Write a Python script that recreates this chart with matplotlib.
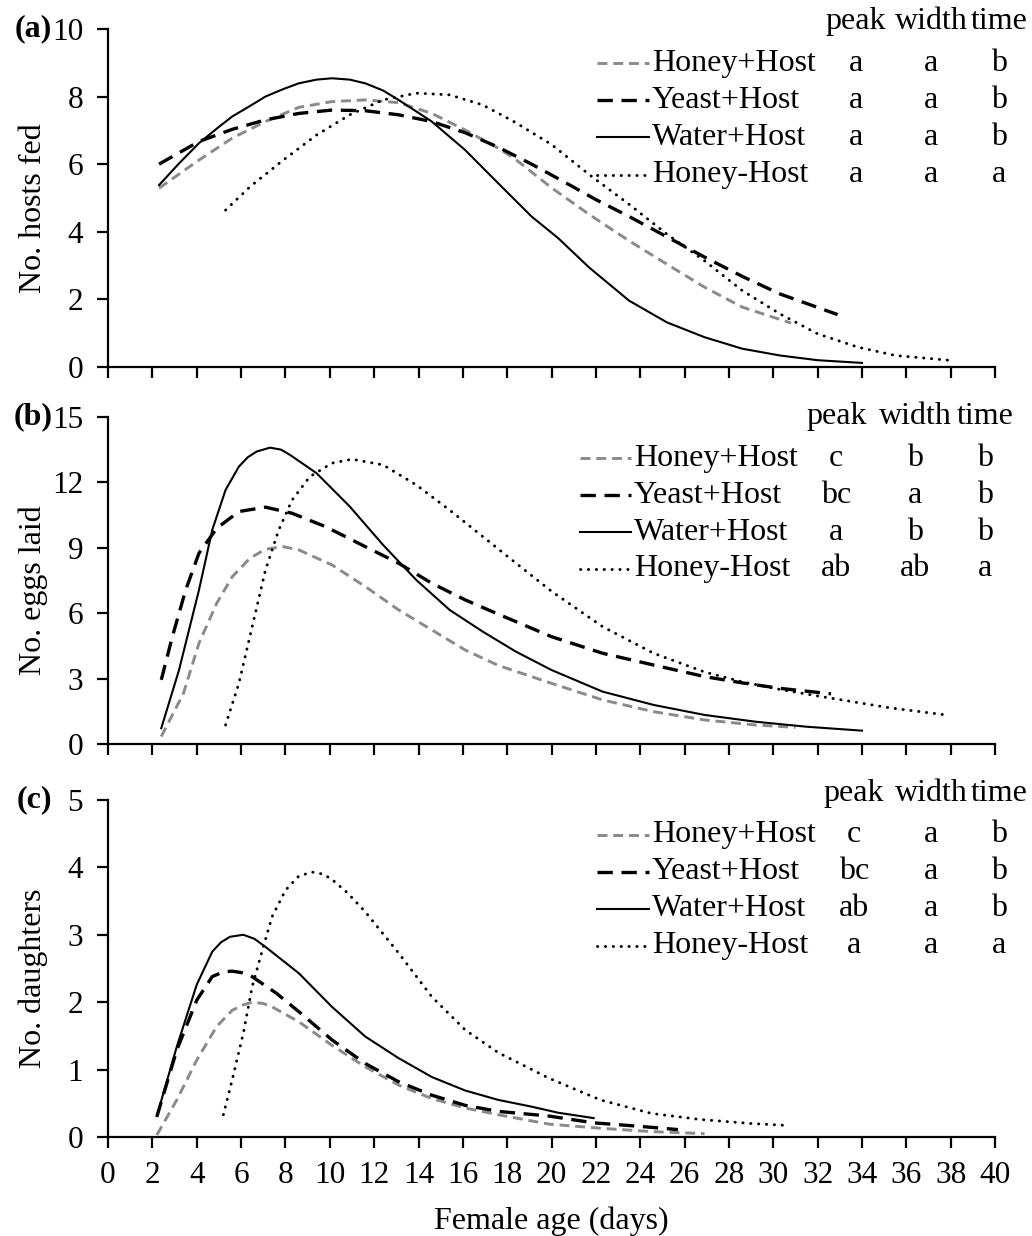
"""Host feeding, egg laying and daughter production curves by female age."""

import matplotlib

matplotlib.use("Agg")
import matplotlib.pyplot as plt
from matplotlib.lines import Line2D

plt.rcParams["font.family"] = ["Liberation Serif", "DejaVu Serif"]

TREATMENTS = ["Honey+Host", "Yeast+Host", "Water+Host", "Honey-Host"]
COLUMNS = ["peak", "width", "time"]

# (a) No. hosts fed
HOSTS_HONEY_X = [2.3, 4.1, 5.6, 7.1, 8.6, 10.1, 11.6, 13.1, 14.6, 16.1, 17.6, 18.3, 20.0, 21.7, 23.5, 25.2, 26.9, 28.6, 30.8]
HOSTS_HONEY_Y = [5.29, 6.12, 6.77, 7.26, 7.68, 7.85, 7.9, 7.82, 7.5, 7.01, 6.47, 6.18, 5.30, 4.51, 3.73, 3.04, 2.36, 1.77, 1.3]
HOSTS_YEAST_X = [2.3, 4.1, 5.6, 7.1, 8.6, 10.1, 11.6, 13.1, 14.6, 16.1, 17.6, 19.1, 20.5, 22.0, 23.5, 25.2, 26.9, 28.6, 30.3, 32.9]
HOSTS_YEAST_Y = [6.0, 6.67, 7.03, 7.31, 7.5, 7.6, 7.58, 7.46, 7.26, 6.93, 6.5, 6.0, 5.5, 4.95, 4.45, 3.85, 3.25, 2.68, 2.16, 1.55]
HOSTS_WATER_X = [2.3, 3.2, 4.1, 4.9, 5.6, 6.4, 7.1, 7.9, 8.6, 9.4, 10.1, 10.9, 11.6, 12.4, 13.1, 14.6, 16.1, 17.6, 19.1, 20.3, 21.7, 23.5, 25.2, 26.9, 28.6, 30.3, 32.0, 34.0]
HOSTS_WATER_Y = [5.38, 6.02, 6.62, 7.05, 7.41, 7.72, 8.0, 8.22, 8.39, 8.5, 8.54, 8.5, 8.39, 8.18, 7.9, 7.26, 6.42, 5.43, 4.45, 3.81, 2.94, 1.96, 1.32, 0.88, 0.54, 0.34, 0.2, 0.12]
HOSTS_NOHOST_X = [5.3, 6.4, 7.9, 9.4, 10.9, 12.4, 13.9, 15.4, 16.9, 18.3, 20.0, 21.7, 23.5, 25.2, 26.9, 28.6, 30.3, 32.0, 33.8, 35.5, 37.9]
HOSTS_NOHOST_Y = [4.64, 5.33, 6.12, 6.86, 7.46, 7.9, 8.1, 8.05, 7.75, 7.26, 6.58, 5.69, 4.81, 3.93, 3.14, 2.26, 1.57, 0.98, 0.59, 0.34, 0.2]

# (b) No. eggs laid
EGGS_HONEY_X = [2.4, 3.4, 4.1, 4.9, 5.6, 6.4, 7.1, 7.9, 8.6, 10.1, 11.6, 13.1, 14.6, 16.1, 17.6, 20.0, 22.3, 24.6, 26.9, 29.2, 31.0]
EGGS_HONEY_Y = [0.34, 2.32, 4.62, 6.45, 7.67, 8.52, 8.93, 9.05, 8.9, 8.21, 7.22, 6.15, 5.23, 4.31, 3.6, 2.78, 2.02, 1.48, 1.1, 0.87, 0.76]
EGGS_YEAST_X = [2.4, 2.9, 3.5, 4.1, 4.9, 5.9, 7.1, 8.3, 9.8, 11.6, 13.1, 14.6, 16.1, 17.6, 20.0, 22.3, 24.6, 26.9, 28.6, 30.3, 32.6]
EGGS_YEAST_Y = [2.94, 4.92, 7.06, 8.75, 9.89, 10.66, 10.86, 10.58, 9.97, 9.05, 8.29, 7.37, 6.61, 5.95, 4.92, 4.16, 3.62, 3.09, 2.8, 2.55, 2.3]
EGGS_WATER_X = [2.4, 3.2, 4.1, 4.7, 5.3, 5.9, 6.3, 6.7, 7.3, 7.8, 8.2, 9.4, 10.9, 12.4, 13.9, 15.4, 16.9, 18.4, 20.0, 22.3, 24.6, 26.9, 29.2, 31.5, 34.0]
EGGS_WATER_Y = [0.72, 3.39, 7.06, 9.82, 11.65, 12.72, 13.15, 13.41, 13.59, 13.5, 13.26, 12.42, 10.89, 9.13, 7.52, 6.15, 5.15, 4.23, 3.39, 2.4, 1.79, 1.33, 1.02, 0.79, 0.61]
EGGS_NOHOST_X = [5.3, 5.9, 6.5, 7.1, 7.7, 8.3, 9.1, 10.1, 11.0, 12.4, 13.9, 15.4, 16.9, 18.4, 20.0, 22.3, 24.6, 26.9, 28.6, 30.3, 32.0, 33.5, 35.3, 37.8]
EGGS_NOHOST_Y = [0.87, 2.78, 5.38, 7.98, 9.82, 11.19, 12.26, 12.88, 13.06, 12.8, 11.88, 10.73, 9.51, 8.29, 7.0, 5.38, 4.16, 3.3, 2.85, 2.5, 2.2, 1.95, 1.65, 1.33]

# (c) No. daughters
DAUGHTERS_HONEY_X = [2.2, 3.1, 4.0, 4.9, 5.6, 6.1, 6.5, 7.0, 7.4, 8.6, 10.1, 11.6, 13.1, 14.6, 16.1, 17.6, 19.9, 22.2, 24.5, 26.9]
DAUGHTERS_HONEY_Y = [0.03, 0.55, 1.14, 1.64, 1.88, 1.96, 2.0, 1.98, 1.93, 1.71, 1.36, 1.04, 0.77, 0.57, 0.43, 0.33, 0.19, 0.13, 0.08, 0.05]
DAUGHTERS_YEAST_X = [2.2, 3.1, 4.0, 4.7, 5.2, 5.6, 6.0, 6.4, 7.6, 8.6, 10.1, 11.6, 13.1, 14.6, 16.1, 17.6, 19.9, 21.9, 23.9, 25.7]
DAUGHTERS_YEAST_Y = [0.3, 1.29, 2.03, 2.38, 2.45, 2.46, 2.44, 2.4, 2.13, 1.86, 1.44, 1.09, 0.82, 0.62, 0.47, 0.38, 0.31, 0.21, 0.16, 0.11]
DAUGHTERS_WATER_X = [2.2, 3.1, 4.0, 4.7, 5.1, 5.5, 6.1, 6.6, 7.1, 8.6, 10.1, 11.6, 13.1, 14.6, 16.1, 17.6, 19.1, 20.3, 21.9]
DAUGHTERS_WATER_Y = [0.31, 1.34, 2.26, 2.75, 2.89, 2.97, 3.0, 2.94, 2.82, 2.43, 1.93, 1.49, 1.17, 0.89, 0.69, 0.55, 0.45, 0.36, 0.28]
DAUGHTERS_NOHOST_X = [5.2, 5.6, 6.1, 6.5, 7.0, 7.4, 8.0, 8.6, 9.2, 9.7, 10.1, 10.8, 11.6, 13.1, 14.6, 16.1, 17.6, 19.9, 22.2, 24.5, 26.7, 29.0, 30.7]
DAUGHTERS_NOHOST_Y = [0.33, 0.85, 1.54, 2.23, 2.82, 3.27, 3.66, 3.87, 3.93, 3.9, 3.82, 3.62, 3.34, 2.73, 2.08, 1.59, 1.25, 0.87, 0.55, 0.35, 0.26, 0.2, 0.17]

# significance letters, rows follow TREATMENTS, columns follow COLUMNS
HOSTS_LETTERS = [["a", "a", "b"], ["a", "a", "b"], ["a", "a", "b"], ["a", "a", "a"]]
EGGS_LETTERS = [["c", "b", "b"], ["bc", "a", "b"], ["a", "b", "b"], ["ab", "ab", "a"]]
DAUGHTERS_LETTERS = [["c", "a", "b"], ["bc", "a", "b"], ["ab", "a", "b"], ["a", "a", "a"]]

STYLES = {
    "Honey+Host": dict(color="#8a8a8a", lw=2.1, linestyle=(0, (3.4, 2.0))),
    "Yeast+Host": dict(color="black", lw=2.4, linestyle=(0, (4.6, 2.6))),
    "Water+Host": dict(color="black", lw=1.5, linestyle="-"),
    "Honey-Host": dict(color="black", lw=2.1, linestyle=(0, (0.1, 2.6)), dash_capstyle="round"),
}

TEXT_SIZE = 23
TICK_SIZE = 22.5


def draw_panel(ax, series, ylim, yticks, ylabel, tag, letters, legend_x):
    for name, (xs, ys) in zip(TREATMENTS, series):
        ax.plot(xs, ys, **STYLES[name])

    ax.set_xlim(0, 40)
    ax.set_ylim(*ylim)
    ax.set_xticks(range(0, 41, 2))
    ax.set_yticks(yticks)
    for side in ("top", "right"):
        ax.spines[side].set_visible(False)
    for side in ("left", "bottom"):
        ax.spines[side].set_linewidth(1.6)
    ax.tick_params(direction="out", length=8, width=1.6, labelsize=TICK_SIZE)
    ax.tick_params(axis="y", pad=10)
    ax.tick_params(axis="x", pad=9)
    ax.set_ylabel(ylabel, fontsize=TEXT_SIZE)
    ax.yaxis.set_label_coords(-0.068, 0.47)
    ax.text(-0.063, 1.0, tag, transform=ax.transAxes, fontsize=TEXT_SIZE,
            fontweight="bold", ha="right", va="center")

    # legend table: line sample, treatment name, significance letters
    line_x0, text_x, col_x, row_top, row_step = legend_x
    trans = ax.transAxes
    for word, cx in zip(COLUMNS, col_x):
        ax.text(cx, row_top + row_step * 1.12, word, transform=trans,
                fontsize=TEXT_SIZE, ha="center", va="center")
    for i, name in enumerate(TREATMENTS):
        ry = row_top - i * row_step
        ax.add_line(Line2D([line_x0, text_x - 0.003], [ry, ry], transform=trans,
                           clip_on=False, **STYLES[name]))
        ax.text(text_x, ry, name, transform=trans, fontsize=TEXT_SIZE,
                ha="left", va="center")
        for letter, cx in zip(letters[i], col_x):
            ax.text(cx, ry, letter, transform=trans, fontsize=TEXT_SIZE,
                    ha="center", va="center")


fig = plt.figure(figsize=(10.32, 12.36), dpi=100)
left, width = 0.1047, 0.8595
ax_a = fig.add_axes([left, 0.7031, width, 0.2735])
ax_b = fig.add_axes([left, 0.3981, width, 0.2646])
ax_c = fig.add_axes([left, 0.0801, width, 0.2727])

draw_panel(
    ax_a,
    [(HOSTS_HONEY_X, HOSTS_HONEY_Y), (HOSTS_YEAST_X, HOSTS_YEAST_Y),
     (HOSTS_WATER_X, HOSTS_WATER_Y), (HOSTS_NOHOST_X, HOSTS_NOHOST_Y)],
    (0, 10), range(0, 11, 2), "No. hosts fed", "(a)", HOSTS_LETTERS,
    (0.551, 0.613, (0.843, 0.928, 1.005), 0.899, 0.11),
)
draw_panel(
    ax_b,
    [(EGGS_HONEY_X, EGGS_HONEY_Y), (EGGS_YEAST_X, EGGS_YEAST_Y),
     (EGGS_WATER_X, EGGS_WATER_Y), (EGGS_NOHOST_X, EGGS_NOHOST_Y)],
    (0, 15), range(0, 16, 3), "No. eggs laid", "(b)", EGGS_LETTERS,
    (0.532, 0.593, (0.821, 0.910, 0.989), 0.874, 0.113),
)
draw_panel(
    ax_c,
    [(DAUGHTERS_HONEY_X, DAUGHTERS_HONEY_Y), (DAUGHTERS_YEAST_X, DAUGHTERS_YEAST_Y),
     (DAUGHTERS_WATER_X, DAUGHTERS_WATER_Y), (DAUGHTERS_NOHOST_X, DAUGHTERS_NOHOST_Y)],
    (0, 5), range(0, 6), "No. daughters", "(c)", DAUGHTERS_LETTERS,
    (0.551, 0.613, (0.841, 0.928, 1.005), 0.897, 0.11),
)

ax_a.tick_params(axis="x", labelbottom=False)
ax_b.tick_params(axis="x", labelbottom=False)
ax_c.set_xlabel("Female age (days)", fontsize=TEXT_SIZE, labelpad=12)

fig.savefig("out.png", dpi=100)
